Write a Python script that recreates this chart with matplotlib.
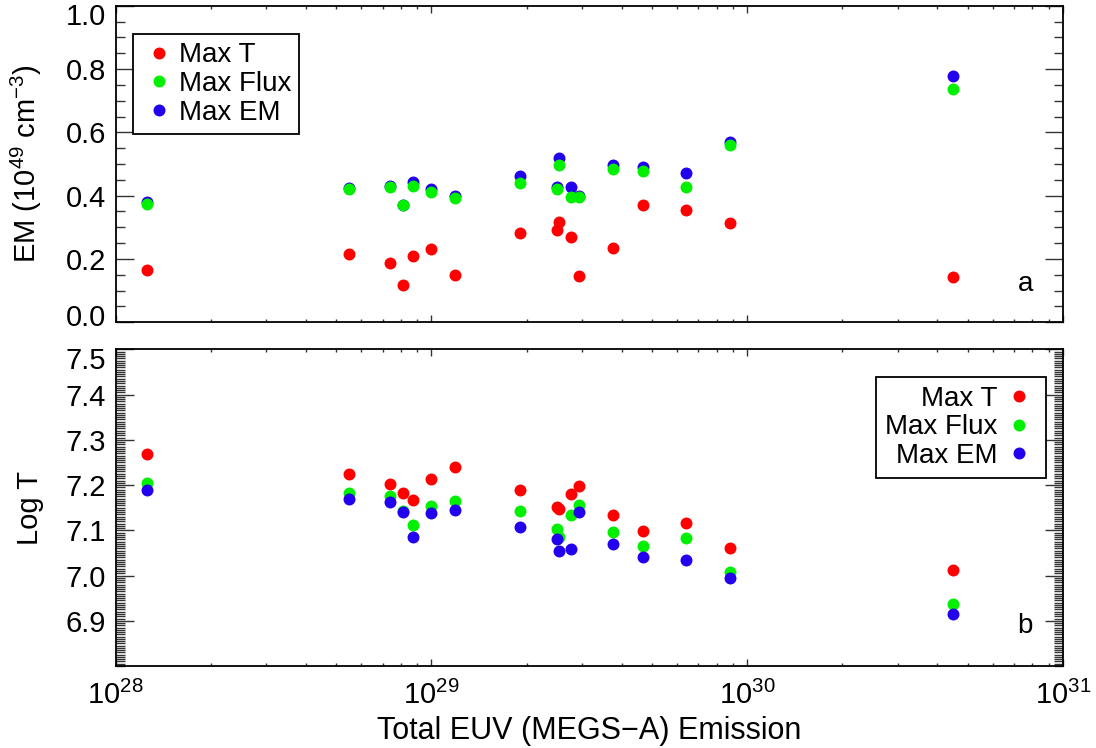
import matplotlib
matplotlib.use("Agg")
import matplotlib.pyplot as plt
from matplotlib.ticker import MultipleLocator, FixedLocator, LogLocator, NullFormatter, FormatStrFormatter
from matplotlib.lines import Line2D
from matplotlib.transforms import ScaledTranslation

plt.rcParams['font.family'] = ['Liberation Sans', 'DejaVu Sans']
plt.rcParams['mathtext.fontset'] = 'custom'
plt.rcParams['mathtext.rm'] = 'Liberation Sans'
plt.rcParams['mathtext.it'] = 'Liberation Sans'
plt.rcParams['mathtext.default'] = 'regular'

# ---- data ----
euv = [1.26e28, 5.46e28, 7.38e28, 8.11e28, 8.73e28, 1.00e29, 1.19e29, 1.90e29,
       2.49e29, 2.54e29, 2.76e29, 2.94e29, 3.75e29, 4.68e29, 6.40e29, 8.84e29, 4.49e30]

em_maxT = [0.165, 0.215, 0.188, 0.118, 0.209, 0.233, 0.148, 0.282,
           0.292, 0.317, 0.269, 0.147, 0.236, 0.370, 0.354, 0.314, 0.144]
em_maxFlux = [0.373, 0.420, 0.427, 0.371, 0.431, 0.413, 0.392, 0.441,
              0.420, 0.496, 0.397, 0.397, 0.483, 0.479, 0.428, 0.559, 0.737]
em_maxEM = [0.379, 0.424, 0.431, 0.372, 0.442, 0.422, 0.399, 0.461,
            0.427, 0.518, 0.427, 0.400, 0.497, 0.492, 0.473, 0.570, 0.777]

logT_maxT = [7.269, 7.225, 7.202, 7.183, 7.167, 7.213, 7.239, 7.189,
             7.152, 7.146, 7.180, 7.197, 7.133, 7.098, 7.116, 7.060, 7.013]
logT_maxFlux = [7.205, 7.182, 7.175, 7.143, 7.112, 7.154, 7.164, 7.142,
                7.103, 7.085, 7.133, 7.155, 7.096, 7.066, 7.082, 7.007, 6.937]
logT_maxEM = [7.188, 7.170, 7.162, 7.141, 7.086, 7.138, 7.144, 7.108,
              7.081, 7.055, 7.058, 7.140, 7.070, 7.042, 7.034, 6.994, 6.916]

series_labels = ['Max T', 'Max Flux', 'Max EM']
em_yticks = [0.0, 0.2, 0.4, 0.6, 0.8, 1.0]
logT_yticks = [6.9, 7.0, 7.1, 7.2, 7.3, 7.4, 7.5]

RED, GREEN, BLUE = '#ff0000', '#00f000', '#2200ee'
MS = 8.6
FS_TICK = 21
FS_LAB = 21
FS_LEG = 20

fig = plt.figure(figsize=(10.96, 7.48), dpi=100)
ax1 = fig.add_axes([0.1056, 0.5691, 0.8643, 0.4233])
ax2 = fig.add_axes([0.1056, 0.1096, 0.8643, 0.4234])

# top panel: blue, green, red order
ax1.plot(euv, em_maxEM, 'o', color=BLUE, ms=MS, mec='none', zorder=3)
ax1.plot(euv, em_maxFlux, 'o', color=GREEN, ms=MS, mec='none', zorder=4)
ax1.plot(euv, em_maxT, 'o', color=RED, ms=MS, mec='none', zorder=5)

# bottom panel: red, green, blue order
ax2.plot(euv, logT_maxT, 'o', color=RED, ms=MS, mec='none', zorder=3)
ax2.plot(euv, logT_maxFlux, 'o', color=GREEN, ms=MS, mec='none', zorder=4)
ax2.plot(euv, logT_maxEM, 'o', color=BLUE, ms=MS, mec='none', zorder=5)

for ax in (ax1, ax2):
    ax.set_xscale('log')
    ax.set_xlim(1e28, 1e31)
    ax.xaxis.set_major_locator(LogLocator(base=10, numticks=10))
    ax.xaxis.set_minor_locator(LogLocator(base=10, subs=range(2, 10), numticks=20))
    ax.xaxis.set_minor_formatter(NullFormatter())
    ax.tick_params(axis='both', which='both', direction='in', top=True, right=True,
                   labelsize=FS_TICK, width=1.0, color='#333333')
    ax.tick_params(axis='x', which='major', length=4.8)
    ax.tick_params(axis='x', which='minor', length=2.4)
    ax.tick_params(axis='y', which='major', length=12.7, pad=7)
    ax.tick_params(axis='y', which='minor', length=6.3)
    for sp in ax.spines.values():
        sp.set_linewidth(1.3)

ax1.set_ylim(0.0, 1.0)
ax1.yaxis.set_major_locator(FixedLocator(em_yticks))
ax1.yaxis.set_minor_locator(MultipleLocator(0.05))
ax1.yaxis.set_major_formatter(FormatStrFormatter('%.1f'))
ax1.tick_params(axis='x', labelbottom=False)
ax1.set_ylabel(r'EM (10$^{49}$ cm$^{-3}$)', fontsize=FS_LAB)
ax1.yaxis.set_label_coords(-0.0757, 0.5)

ax2.set_ylim(6.8, 7.5)
ax2.yaxis.set_major_locator(FixedLocator(logT_yticks))
ax2.yaxis.set_minor_locator(MultipleLocator(0.005))
ax2.yaxis.set_major_formatter(FormatStrFormatter('%.1f'))
ax2.tick_params(axis='x', which='major', pad=11)
ax2.set_ylabel('Log T', fontsize=FS_LAB)
ax2.yaxis.set_label_coords(-0.0757, 0.5)
ax2.set_xlabel('Total EUV (MEGS\u2212A) Emission', fontsize=22, labelpad=4)

ax1.text(0.96, 0.12, 'a', transform=ax1.transAxes, fontsize=FS_LEG, ha='center', va='center')
ax2.text(0.96, 0.126, 'b', transform=ax2.transAxes, fontsize=FS_LEG, ha='center', va='center')

handles = [Line2D([], [], ls='none', marker='o', color=c, ms=MS, mec='none')
           for c in (RED, GREEN, BLUE)]

leg1 = ax1.legend(handles, series_labels, loc='upper left', bbox_to_anchor=(0.018, 0.9106),
                  borderaxespad=0, fontsize=FS_LEG, frameon=True, fancybox=False,
                  edgecolor='black', framealpha=1, handlelength=1.3, handletextpad=0.05,
                  labelspacing=0.1, borderpad=0.3)
leg1.get_frame().set_linewidth(1.3)

leg2 = ax2.legend(handles, series_labels, loc='upper right', bbox_to_anchor=(0.9817, 0.9116),
                  borderaxespad=0, fontsize=FS_LEG, frameon=True, fancybox=False,
                  edgecolor='black', framealpha=1, handlelength=1.3, handletextpad=0.15,
                  labelspacing=0.1, borderpad=0.3, markerfirst=False)
leg2.get_frame().set_linewidth(1.3)

# shift end tick labels inward like the original
fig.canvas.draw()
def shift(label, dy_px):
    label.set_transform(label.get_transform() + ScaledTranslation(0, dy_px / 100.0, fig.dpi_scale_trans))

t1 = ax1.yaxis.get_major_ticks()
shift(t1[-1].label1, -8.5)
shift(t1[0].label1, 7)
t2 = ax2.yaxis.get_major_ticks()
shift(t2[-1].label1, -9)

fig.savefig('out.png', dpi=100)
